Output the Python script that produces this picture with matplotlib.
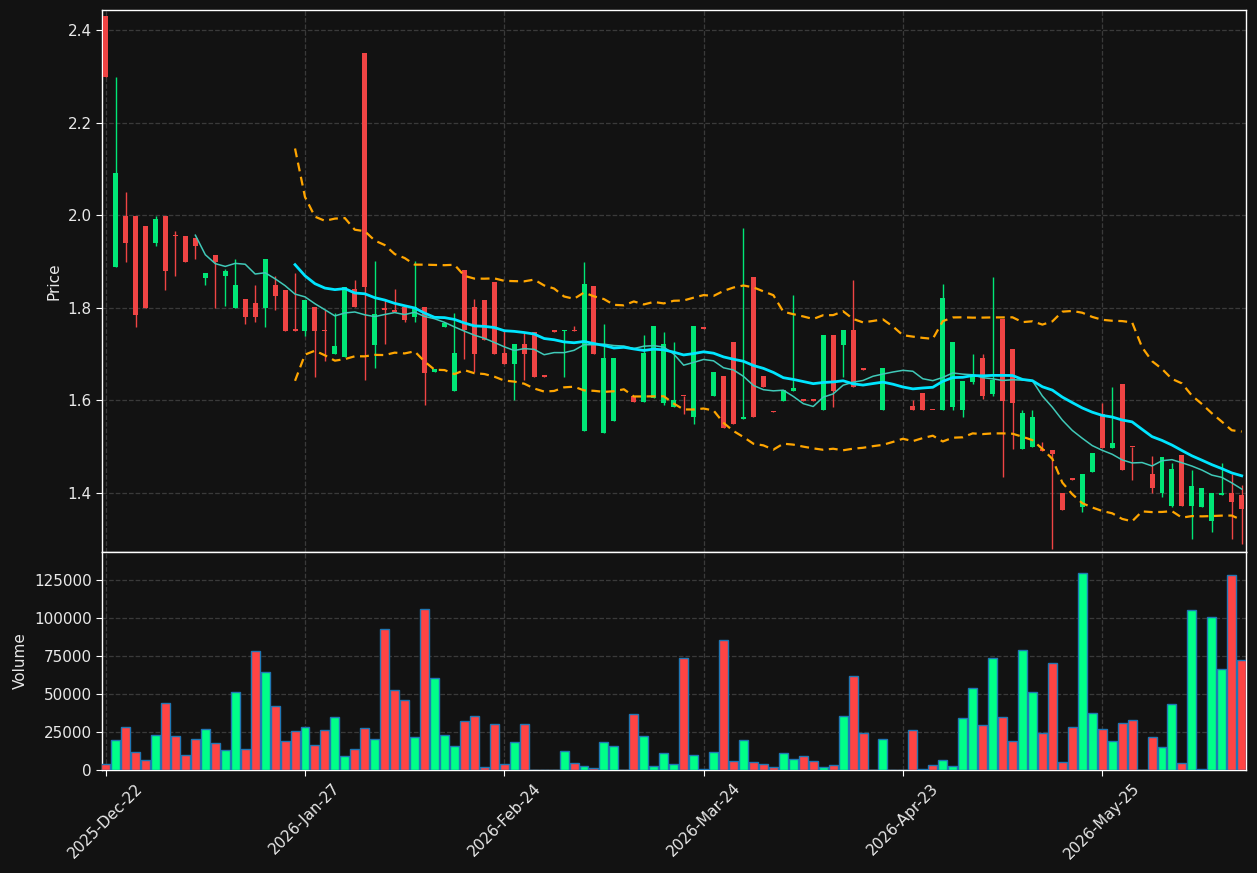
import matplotlib
matplotlib.use("Agg")
import matplotlib.pyplot as plt
import numpy as np
import pandas as pd

# daily OHLC (one row per trading session)
opens = [2.429, 1.889, 1.999, 1.999, 1.976, 1.940, 1.999, 1.957, 1.956, 1.950,
         1.864, 1.915, 1.868, 1.799, 1.820, 1.811, 1.799, 1.850, 1.839, 1.755,
         1.749, 1.801, 1.752, 1.700, 1.693, 1.840, 2.350, 1.719, 1.797, 1.796,
         1.801, 1.781, 1.801, 1.661, 1.759, 1.620, 1.882, 1.801, 1.817, 1.856,
         1.702, 1.679, 1.721, 1.747, 1.652, 1.749, 1.749, 1.751, 1.534, 1.847,
         1.529, 1.555, 1.691, 1.610, 1.596, 1.605, 1.594, 1.586, 1.610, 1.564,
         1.756, 1.609, 1.652, 1.726, 1.560, 1.866, 1.652, 1.576, 1.599, 1.620,
         1.600, 1.600, 1.579, 1.741, 1.720, 1.752, 1.671, 1.667, 1.579, 1.671,
         1.635, 1.587, 1.615, 1.580, 1.579, 1.586, 1.579, 1.640, 1.691, 1.614,
         1.775, 1.710, 1.495, 1.499, 1.496, 1.492, 1.401, 1.430, 1.369, 1.445,
         1.571, 1.497, 1.636, 1.500, 1.500, 1.440, 1.399, 1.373, 1.481, 1.373,
         1.369, 1.339, 1.395, 1.401, 1.396]
highs = [2.431, 2.299, 2.051, 1.999, 1.976, 1.998, 1.999, 1.965, 1.956, 1.950,
         1.876, 1.915, 1.884, 1.905, 1.820, 1.850, 1.906, 1.869, 1.839, 1.875,
         1.817, 1.801, 1.796, 1.789, 1.844, 1.861, 2.350, 1.901, 1.819, 1.840,
         1.801, 1.901, 1.801, 1.667, 1.767, 1.789, 1.882, 1.820, 1.817, 1.856,
         1.749, 1.721, 1.746, 1.747, 1.652, 1.749, 1.751, 1.760, 1.898, 1.847,
         1.766, 1.691, 1.691, 1.610, 1.741, 1.760, 1.747, 1.725, 1.610, 1.760,
         1.756, 1.661, 1.652, 1.726, 1.972, 1.866, 1.652, 1.576, 1.623, 1.827,
         1.600, 1.600, 1.741, 1.741, 1.752, 1.861, 1.671, 1.667, 1.671, 1.671,
         1.635, 1.600, 1.615, 1.580, 1.851, 1.726, 1.641, 1.701, 1.701, 1.866,
         1.775, 1.710, 1.580, 1.580, 1.510, 1.492, 1.401, 1.430, 1.440, 1.487,
         1.595, 1.629, 1.636, 1.500, 1.500, 1.480, 1.477, 1.465, 1.481, 1.450,
         1.411, 1.400, 1.465, 1.441, 1.418]
lows = [2.298, 1.889, 1.899, 1.759, 1.799, 1.934, 1.839, 1.869, 1.898, 1.906,
        1.850, 1.800, 1.804, 1.799, 1.766, 1.769, 1.759, 1.796, 1.750, 1.750,
        1.740, 1.651, 1.685, 1.700, 1.693, 1.801, 1.645, 1.671, 1.721, 1.791,
        1.770, 1.770, 1.591, 1.661, 1.759, 1.620, 1.690, 1.661, 1.730, 1.700,
        1.679, 1.600, 1.645, 1.651, 1.651, 1.748, 1.651, 1.750, 1.534, 1.700,
        1.529, 1.555, 1.690, 1.596, 1.596, 1.605, 1.589, 1.586, 1.571, 1.549,
        1.755, 1.609, 1.540, 1.549, 1.560, 1.564, 1.629, 1.575, 1.599, 1.620,
        1.599, 1.599, 1.579, 1.586, 1.651, 1.629, 1.666, 1.666, 1.579, 1.670,
        1.635, 1.579, 1.579, 1.579, 1.579, 1.579, 1.564, 1.636, 1.604, 1.609,
        1.435, 1.495, 1.495, 1.499, 1.490, 1.279, 1.364, 1.429, 1.358, 1.445,
        1.497, 1.497, 1.450, 1.427, 1.499, 1.400, 1.391, 1.369, 1.373, 1.300,
        1.369, 1.315, 1.395, 1.300, 1.290]
closes = [2.298, 2.090, 1.940, 1.784, 1.799, 1.991, 1.879, 1.955, 1.898, 1.933,
          1.876, 1.898, 1.880, 1.850, 1.780, 1.780, 1.906, 1.825, 1.750, 1.750,
          1.817, 1.749, 1.750, 1.717, 1.844, 1.801, 1.845, 1.786, 1.796, 1.791,
          1.773, 1.801, 1.659, 1.667, 1.767, 1.702, 1.752, 1.700, 1.730, 1.700,
          1.679, 1.721, 1.700, 1.651, 1.651, 1.748, 1.751, 1.750, 1.851, 1.700,
          1.691, 1.691, 1.690, 1.596, 1.702, 1.760, 1.721, 1.600, 1.609, 1.760,
          1.755, 1.661, 1.540, 1.549, 1.564, 1.564, 1.629, 1.575, 1.623, 1.626,
          1.599, 1.599, 1.741, 1.620, 1.752, 1.629, 1.666, 1.666, 1.671, 1.670,
          1.635, 1.579, 1.579, 1.579, 1.821, 1.726, 1.641, 1.652, 1.609, 1.645,
          1.599, 1.594, 1.572, 1.565, 1.490, 1.484, 1.364, 1.429, 1.440, 1.487,
          1.497, 1.509, 1.450, 1.499, 1.499, 1.410, 1.477, 1.452, 1.373, 1.416,
          1.411, 1.400, 1.401, 1.380, 1.365]
volumes = [3700, 19500, 28100, 12100, 6400, 22800, 43900, 22100, 9600, 20200,
           26800, 17500, 12900, 51100, 13600, 78100, 64300, 41900, 18900, 25400,
           28100, 16200, 26100, 34600, 9000, 13600, 27400, 20200, 92500, 52400,
           45800, 21500, 105700, 60300, 22800, 15600, 32000, 35300, 1800, 30000,
           4200, 18200, 30000, 300, 300, 300, 12300, 4400, 2400, 1100,
           18200, 15600, 0, 36600, 22100, 2400, 11000, 3700, 73500, 9600,
           400, 11600, 85300, 5700, 19500, 5000, 3700, 1800, 11000, 7000,
           9000, 5700, 1800, 3100, 35300, 61600, 24100, 0, 20200, 0,
           0, 26100, 400, 3100, 6400, 2400, 34000, 53700, 29400, 73500,
           34600, 18900, 78700, 51100, 24100, 70200, 5000, 28100, 129400, 37300,
           26800, 18900, 30700, 32700, 0, 21500, 14900, 43200, 4400, 105000,
           400, 100400, 66200, 128100, 72100]

tick_pos = [0, 20, 40, 60, 80, 100]
tick_labels = ['2025-Dec-22', '2026-Jan-27', '2026-Feb-24', '2026-Mar-24',
               '2026-Apr-23', '2026-May-25']

df = pd.DataFrame({'open': opens, 'high': highs, 'low': lows,
                   'close': closes, 'volume': volumes})
x = np.arange(len(df))
ma10 = df['close'].rolling(10).mean()
ma20 = df['close'].rolling(20).mean()
sd20 = df['close'].rolling(20).std(ddof=0)
bb_up = ma20 + 2 * sd20
bb_lo = ma20 - 2 * sd20

bg = '#121212'
up_c, dn_c = '#00e676', '#ef4444'
vup_c, vdn_c = '#00ff88', '#ff4444'
fg = '#e8e8e8'

fig = plt.figure(figsize=(12.57, 8.73), dpi=100, facecolor=bg)
ax = fig.add_axes([102 / 1257, 321 / 873, 1144 / 1257, 542 / 873])
axv = fig.add_axes([102 / 1257, 103 / 873, 1144 / 1257, 218 / 873], sharex=ax)

up = df['close'] >= df['open']
ccol = np.where(up, up_c, dn_c)
vcol = np.where(up, vup_c, vdn_c)

# candles: wicks then bodies (skip the empty session)
ok = df['volume'].values > 0
ok |= np.abs(df['high'] - df['low']).values > 0.0015
ax.vlines(x[ok], df['low'][ok], df['high'][ok], color=ccol[ok], linewidth=1, zorder=2)
body_lo = np.minimum(df['open'], df['close'])
body_h = np.maximum(np.abs(df['close'] - df['open']), 0.003)
ax.bar(x[ok], body_h[ok], bottom=body_lo[ok], width=0.5, color=ccol[ok],
       linewidth=0, zorder=3)

ax.plot(x, ma10, color='#40c9b8', linewidth=1.1, zorder=4)
ax.plot(x, ma20, color='#00e5ff', linewidth=2, zorder=5)
ax.plot(x, bb_up, color='orange', linewidth=1.6, linestyle=(0, (4, 2.5)), zorder=4)
ax.plot(x, bb_lo, color='orange', linewidth=1.6, linestyle=(0, (4, 2.5)), zorder=4)

axv.bar(x, df['volume'], width=0.9, color=vcol, edgecolor='#1f77b4',
        linewidth=1, zorder=3)

for a in (ax, axv):
    a.set_facecolor(bg)
    a.grid(True, color='#3a3a3a', linestyle='--', linewidth=0.9)
    a.set_axisbelow(True)
    for s in a.spines.values():
        s.set_color('white')
        s.set_linewidth(1)
    a.tick_params(colors=fg, labelsize=11, length=4, color='white')

ax.set_xlim(-0.37, 114.43)
ax.set_ylim(1.2726, 2.443)
ax.set_yticks([1.4, 1.6, 1.8, 2.0, 2.2, 2.4])
ax.set_ylabel('Price', color=fg, fontsize=11)
ax.tick_params(axis='x', labelbottom=False, length=0)

axv.set_ylim(0, 143400)
axv.set_yticks([0, 25000, 50000, 75000, 100000, 125000])
axv.set_yticklabels(['0', '25000', '50000', '75000', '100000', '125000'])
axv.set_ylabel('Volume', color=fg, fontsize=11)
axv.set_xticks(tick_pos)
axv.set_xticklabels(tick_labels, rotation=45, ha='center')

fig.savefig('out.png', dpi=100, facecolor=bg)
